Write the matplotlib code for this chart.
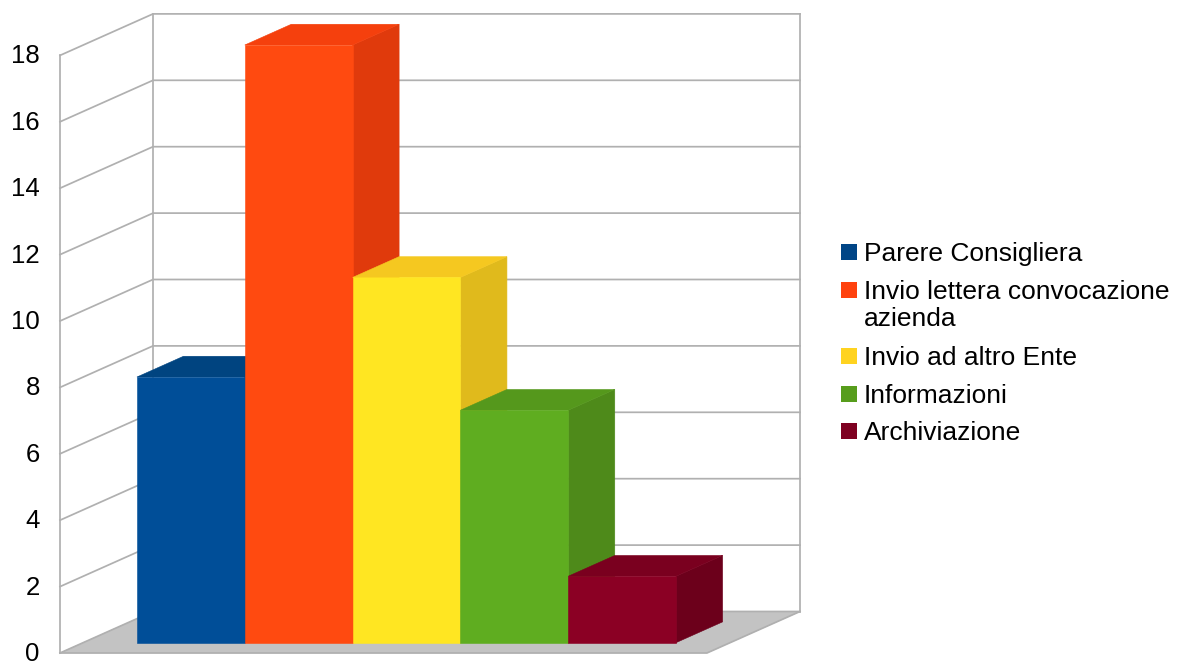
import matplotlib
matplotlib.use("Agg")
import matplotlib.pyplot as plt
from matplotlib.patches import Polygon, Rectangle
from matplotlib.transforms import ScaledTranslation

plt.rcParams["font.family"] = ["Liberation Sans", "DejaVu Sans"]

# Data
# -------------------------------------------------------------------
labels = ["Parere Consigliera", "Invio lettera convocazione\nazienda",
          "Invio ad altro Ente", "Informazioni", "Archiviazione"]
values = [8, 18, 11, 7, 2]
y_ticks = [0, 2, 4, 6, 8, 10, 12, 14, 16, 18]

legend_colors = ["#004586", "#ff420e", "#ffd320", "#579d1c", "#7e0021"]
front_colors = ["#004e98", "#ff4a10", "#ffe622", "#5fad20", "#8b0024"]
top_colors = ["#004480", "#f5400d", "#f5c820", "#55981c", "#7a001f"]
side_colors = ["#003c70", "#e03a0c", "#e0ba1c", "#4e8a1a", "#6c001b"]

grid_color = "#b0b0b0"
floor_color = "#c3c3c3"

# Scales: pixels per bar width / per value unit, and the depth shift
W, H = 1177, 664
X0, Y0 = 60, 653
PX_X = 107.83
PX_Y = 33.2
DEPTH_X = 93 / PX_X
DEPTH_Y = 41.5 / PX_Y
FLOOR_W = 6
TOP = 18
BAR_SHIFT = -0.002


def oblique(x, v, d):
    # x in bar widths, v in chart units, d = 0 front .. 1 back
    return x + d * DEPTH_X, v + d * DEPTH_Y


def face(ax, corners, color, zorder, edge=None):
    pts = [oblique(*c) for c in corners]
    ax.add_patch(Polygon(pts, closed=True, facecolor=color, edgecolor=edge or color,
                         linewidth=0.4, clip_on=False, zorder=zorder))


# Frame
# -------------------------------------------------------------------
fig = plt.figure(figsize=(W / 100, H / 100), dpi=100)
ax = fig.add_axes([X0 / W, (H - Y0) / H, (W - X0) / W, Y0 / H])
ax.set_xlim(0, (W - X0) / PX_X)
ax.set_ylim(0, Y0 / PX_Y)
for s in ax.spines.values():
    s.set_visible(False)
ax.patch.set_visible(False)
ax.set_xticks([])
ax.set_yticks(y_ticks)
ax.tick_params(axis="y", length=0, pad=14.5, labelsize=18.5, labelcolor="#000000")
# nudge the tick labels 1 px down
nudge = ScaledTranslation(0, -1 / 100, fig.dpi_scale_trans)
for t in ax.get_yticklabels():
    t.set_verticalalignment("center")
    t.set_transform(t.get_transform() + nudge)

# Floor
face(ax, [(0, 0, 0), (FLOOR_W, 0, 0), (FLOOR_W, 0, 1), (0, 0, 1)], floor_color, 1)

# Grid on the side wall and the back wall
for v in y_ticks:
    p0 = oblique(0, v, 0)
    p1 = oblique(0, v, 1)
    p2 = oblique(FLOOR_W, v, 1)
    ax.plot([p0[0], p1[0], p2[0]], [p0[1], p1[1], p2[1]], color=grid_color, lw=1.25,
            clip_on=False, zorder=2, solid_joinstyle="miter")

# Wall verticals and the outer floor edges
for x, d in [(0, 0), (0, 1), (FLOOR_W, 1)]:
    p0 = oblique(x, 0, d)
    p1 = oblique(x, TOP, d)
    ax.plot([p0[0], p1[0]], [p0[1], p1[1]], color=grid_color, lw=1.25, clip_on=False, zorder=2)
p0, p1 = oblique(FLOOR_W, 0, 0), oblique(FLOOR_W, 0, 1)
ax.plot([0, p0[0], p1[0]], [0, p0[1], p1[1]], color=grid_color, lw=1.25, clip_on=False, zorder=2)

# Bars, left to right so each one covers the side of the previous
z = 3
d0, d1 = 0.25, 0.75
for i, v in enumerate(values):
    x0, x1 = i + 0.5 + BAR_SHIFT, i + 1.5 + BAR_SHIFT
    face(ax, [(x1, 0, d0), (x1, 0, d1), (x1, v, d1), (x1, v, d0)], side_colors[i], z)
    face(ax, [(x0, v, d0), (x1, v, d0), (x1, v, d1), (x0, v, d1)], top_colors[i], z + 1)
    face(ax, [(x0, 0, d0), (x1, 0, d0), (x1, v, d0), (x0, v, d0)], front_colors[i], z + 2)
    z += 3

# Legend
legend_y = [252, 290, 356, 394, 431]
for name, color, y in zip(labels, legend_colors, legend_y):
    fig.add_artist(Rectangle((841 / W, 1 - (y + 8) / H), 16 / W, 16 / H, facecolor=color,
                             edgecolor="none", transform=fig.transFigure))
    fig.text(864 / W, 1 - (y - 10) / H, name, fontsize=19, color="#000000", va="top", ha="left",
             linespacing=1.18)

fig.savefig("out.png", dpi=100)
